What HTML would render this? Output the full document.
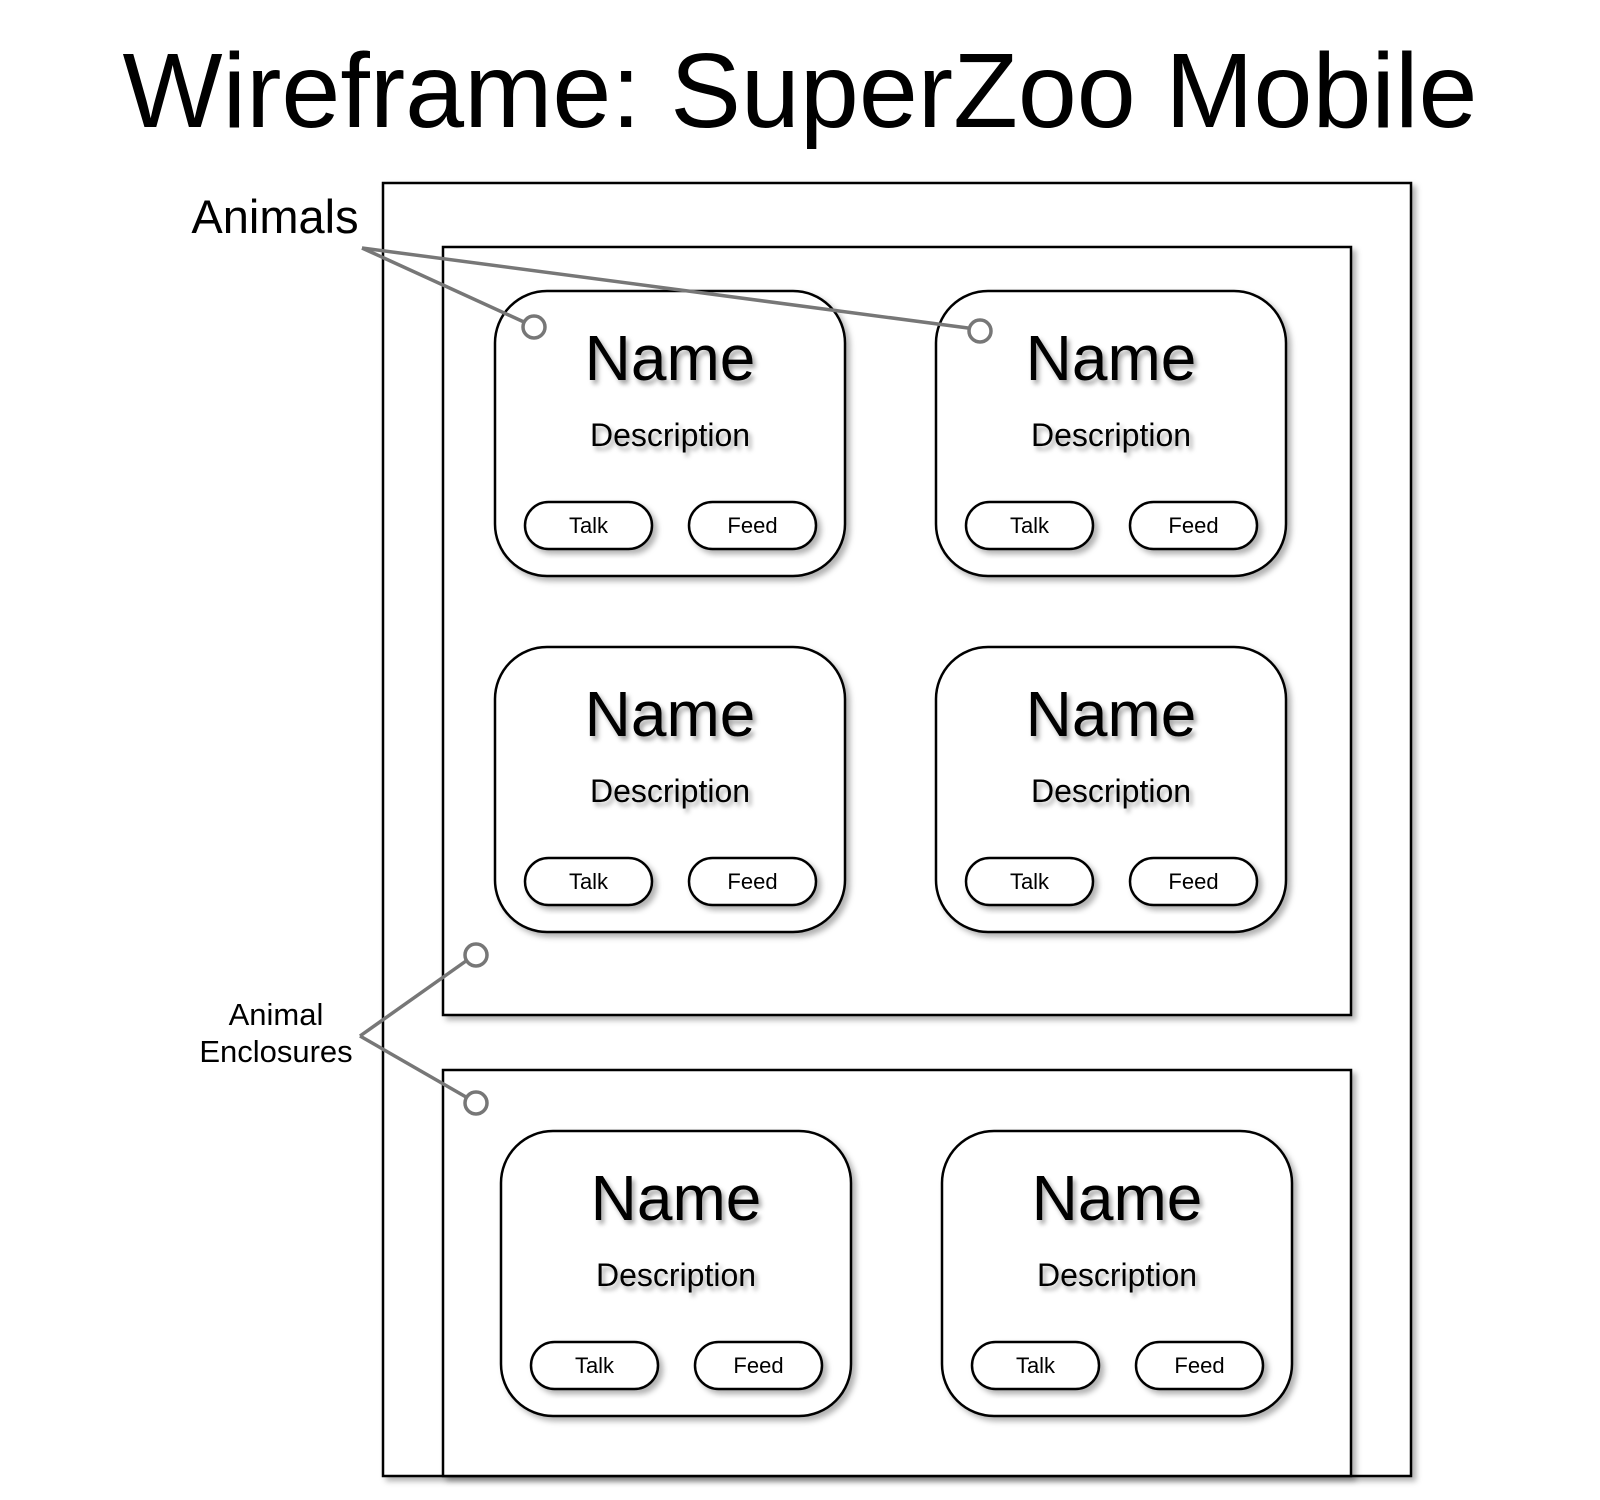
<!DOCTYPE html>
<html><head><meta charset="utf-8"><style>
html,body{margin:0;padding:0;background:#fff;}
svg{display:block;}
text{font-family:"Liberation Sans",Arial,sans-serif;}
</style></head><body>
<svg width="1600" height="1500" viewBox="0 0 1600 1500" xmlns="http://www.w3.org/2000/svg">
<defs>
<filter id="sh" x="-10%" y="-10%" width="130%" height="130%">
<feDropShadow dx="4" dy="4" stdDeviation="3" flood-color="#000" flood-opacity="0.3"/>
</filter>
<filter id="ts" x="-10%" y="-20%" width="130%" height="160%">
<feDropShadow dx="3" dy="4" stdDeviation="2.5" flood-color="#000" flood-opacity="0.35"/>
</filter>
<g id="card">
<rect x="0" y="0" width="350" height="285" rx="52" fill="#fff" stroke="#000" stroke-width="2.5" filter="url(#sh)"/>
<text x="175" y="89" font-size="64" text-anchor="middle" filter="url(#ts)">Name</text>
<text x="175" y="155" font-size="32" text-anchor="middle" filter="url(#ts)">Description</text>
<rect x="30" y="211" width="127" height="47" rx="23.5" fill="#fff" stroke="#000" stroke-width="2.5" filter="url(#sh)"/>
<text x="93.5" y="242" font-size="22" text-anchor="middle">Talk</text>
<rect x="194" y="211" width="127" height="47" rx="23.5" fill="#fff" stroke="#000" stroke-width="2.5" filter="url(#sh)"/>
<text x="257.5" y="242" font-size="22" text-anchor="middle">Feed</text>
</g>
</defs>
<text x="800" y="127" font-size="106" text-anchor="middle">Wireframe: SuperZoo Mobile</text>
<rect x="383" y="183" width="1028" height="1293" fill="#fff" stroke="#000" stroke-width="2.5" filter="url(#sh)"/>
<rect x="443" y="247" width="908" height="768" fill="#fff" stroke="#000" stroke-width="2.5" filter="url(#sh)"/>
<rect x="443" y="1070" width="908" height="406" fill="#fff" stroke="#000" stroke-width="2.5" filter="url(#sh)"/>
<use href="#card" x="495" y="291"/>
<use href="#card" x="936" y="291"/>
<use href="#card" x="495" y="647"/>
<use href="#card" x="936" y="647"/>
<use href="#card" x="501" y="1131"/>
<use href="#card" x="942" y="1131"/>
<text x="275" y="233" font-size="47" text-anchor="middle">Animals</text>
<text x="276" y="1025" font-size="31" text-anchor="middle">Animal</text>
<text x="276" y="1062" font-size="31" text-anchor="middle">Enclosures</text>
<g stroke="#777" stroke-width="3.5" fill="none">
<line x1="362" y1="248" x2="524" y2="322"/>
<line x1="362" y1="248" x2="968" y2="328"/>
<circle cx="534" cy="327" r="11"/>
<circle cx="980" cy="331" r="11"/>
<line x1="360" y1="1036" x2="466" y2="961"/>
<line x1="360" y1="1036" x2="466" y2="1097"/>
<circle cx="476" cy="955" r="11"/>
<circle cx="476" cy="1103" r="11"/>
</g>
</svg>
</body></html>
